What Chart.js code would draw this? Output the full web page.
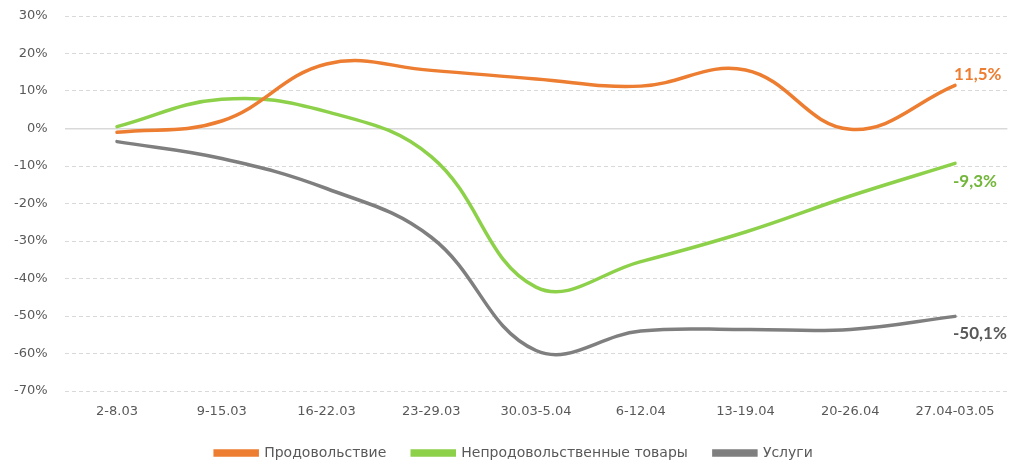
<!DOCTYPE html>
<html>
<head>
<meta charset="utf-8">
<script src="https://cdn.jsdelivr.net/npm/chart.js@4.4.1/dist/chart.umd.min.js"></script>
<style>
html,body{margin:0;padding:0;background:#fff;}
#wrap{width:1012px;height:461px;position:relative;}
</style>
</head>
<body>
<div id="wrap"><canvas id="c"></canvas></div>
<script>
const categories = ["2-8.03","9-15.03","16-22.03","23-29.03","30.03-5.04","6-12.04","13-19.04","20-26.04","27.04-03.05"];
const food = [-1.0, 2.0, 17.2, 15.5, 13.2, 11.3, 15.6, -0.2, 11.5];
const nonFood = [0.5, 7.8, 4.5, -7.5, -42.3, -35.5, -27.6, -18.0, -9.3];
const services = [-3.5, -8.0, -16.0, -29.0, -59.2, -54.0, -53.6, -53.6, -50.1];
const seriesNames = ["Продовольствие","Непродовольственные товары","Услуги"];
const endLabels = ["11,5%","-9,3%","-50,1%"];
const colors = ["#ED7D31","#8DD14A","#7F7F7F"];
const labelColors = ["#ED7D31","#72B63A","#595959"];

const FONT = "'DejaVu Sans', sans-serif";
const LFONT = "Lato, 'Liberation Sans', sans-serif";

const endLabelPlugin = {
  id: 'endLabels',
  afterLayout(chart) {
    if (chart.legend) chart.legend.left += 16;
  },
  afterDatasetsDraw(chart) {
    const ctx = chart.ctx;
    const offsets = [[-1,-11],[-2,18],[-2,17]];
    chart.data.datasets.forEach((ds, i) => {
      const meta = chart.getDatasetMeta(i);
      const pt = meta.data[meta.data.length - 1];
      ctx.save();
      ctx.font = "bold 17px " + LFONT;
      ctx.fillStyle = labelColors[i];
      ctx.textAlign = 'left';
      ctx.textBaseline = 'middle';
      ctx.fillText(endLabels[i], pt.x + offsets[i][0], pt.y + offsets[i][1]);
      ctx.restore();
    });
  }
};

new Chart(document.getElementById('c'), {
  type: 'line',
  data: {
    labels: categories,
    datasets: [food, nonFood, services].map((d, i) => ({
      label: seriesNames[i],
      data: d,
      borderColor: colors[i],
      backgroundColor: colors[i],
      borderWidth: 3.5,
      pointRadius: 0,
      pointHoverRadius: 0,
      tension: 0.4,
      fill: false,
      borderCapStyle: 'round'
    }))
  },
  options: {
    responsive: true,
    maintainAspectRatio: false,
    animation: false,
    layout: { padding: { top: 16, right: 4.6, left: 4.6, bottom: 0 } },
    plugins: {
      legend: {
        position: 'bottom',
        maxHeight: 41,
        labels: {
          boxWidth: 42,
          boxHeight: 4,
          padding: 26,
          color: '#595959',
          font: { family: FONT, size: 14 }
        }
      },
      tooltip: { enabled: false }
    },
    scales: {
      x: {
        offset: true,
        grid: { display: false, drawTicks: false },
        border: { display: false },
        afterFit: s => { s.height = 29; },
        ticks: { color: '#595959', font: { family: FONT, size: 13 }, padding: 13, maxRotation: 0, autoSkip: false }
      },
      y: {
        min: -70, max: 30,
        afterFit: s => { s.width = 60; },
        ticks: { stepSize: 10, color: '#595959', font: { family: FONT, size: 13 }, padding: 3,
          callback: v => v + '%' },
        grid: {
          drawTicks: true,
          tickLength: 14,
          tickColor: 'rgba(0,0,0,0)',
          color: '#D9D9D9',
          lineWidth: ctx => ctx.tick && ctx.tick.value === 0 ? 1.5 : 1
        },
        border: { display: false, dash: ctx => ctx.tick && ctx.tick.value === 0 ? [] : [4, 3] }
      }
    }
  },
  plugins: [endLabelPlugin]
});
</script>
</body>
</html>
